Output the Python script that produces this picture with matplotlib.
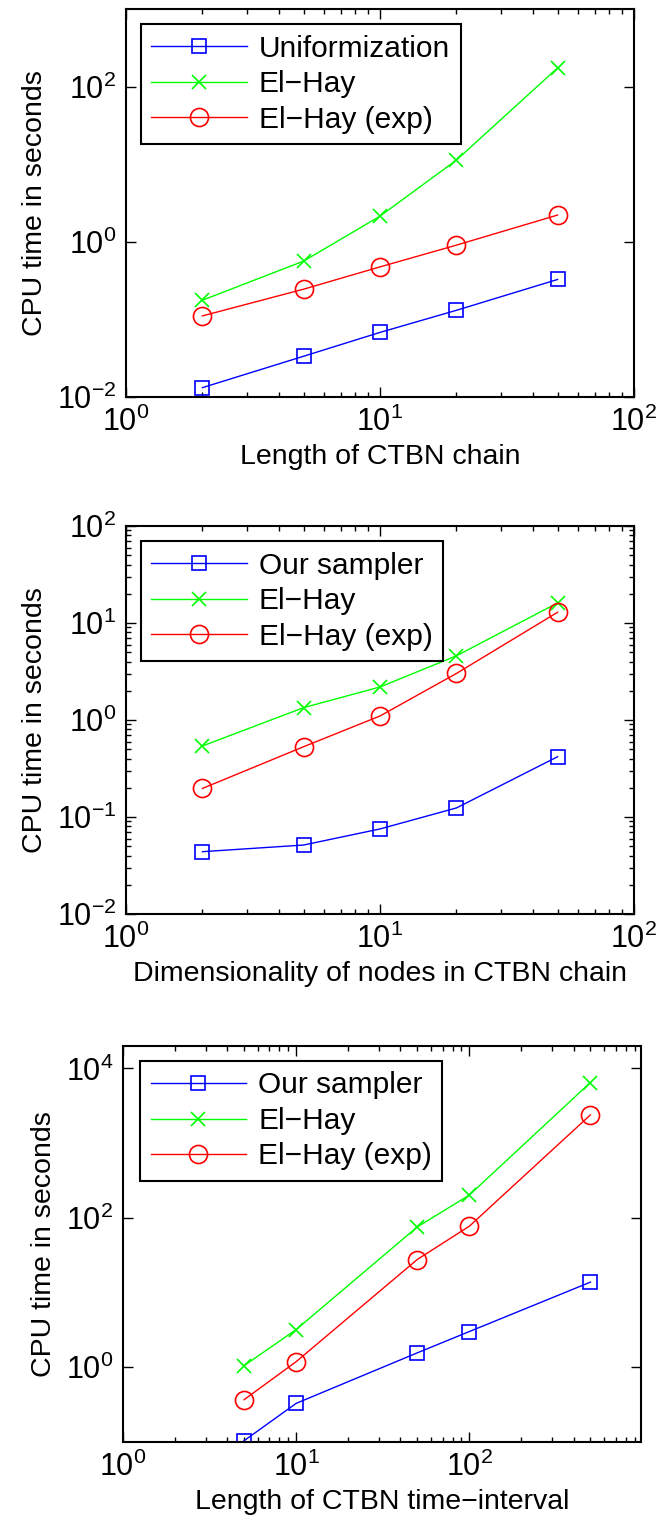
import matplotlib
matplotlib.use('Agg')
import math
import matplotlib.pyplot as plt
from matplotlib.ticker import LogLocator, FuncFormatter, NullFormatter

plt.rcParams['font.family'] = ['Liberation Sans', 'DejaVu Sans']

# --- data ---
chainLen = [2, 5, 10, 20, 50]
chainUnif = [0.0132, 0.0335, 0.068, 0.131, 0.327]
chainElHay = [0.177, 0.563, 2.14, 11.3, 174]
chainElHayExp = [0.111, 0.245, 0.475, 0.906, 2.21]

nodeDim = [2, 5, 10, 20, 50]
dimOurs = [0.0439, 0.0514, 0.0753, 0.124, 0.418]
dimElHay = [0.54, 1.34, 2.19, 4.59, 16.1]
dimElHayExp = [0.197, 0.53, 1.1, 3.02, 12.9]

intervalLen = [5, 10, 50, 100, 500]
intOurs = [0.104, 0.329, 1.56, 3.01, 13.8]
intElHay = [1.05, 3.2, 75.6, 202, 6490]
intElHayExp = [0.368, 1.19, 27.7, 77.4, 2390]

W, H = 662.0, 1536.0
FS_LAB = 20.5
FS_TICK = 22
FS_LEG = 21.5

def pow10(v, pos):
    e = int(round(math.log10(v)))
    if e >= 0:
        return r'$\mathregular{10^{%d}}$' % e
    return r'$\mathregular{10^{' + '\u2212' + str(-e) + '}}$'

def make_axes(l, r, t, b):
    return fig.add_axes([l / W, 1 - b / H, (r - l) / W, (b - t) / H])

def style(ax, xlim, ylim, yticks, xticks, yminor, xlabel, legpos):
    ax.set_xscale('log')
    ax.set_yscale('log')
    ax.set_xlim(*xlim)
    ax.set_ylim(*ylim)
    ax.set_xticks(xticks)
    ax.set_yticks(yticks)
    ax.xaxis.set_minor_locator(LogLocator(base=10, subs=range(2, 10), numticks=20))
    if yminor:
        ax.yaxis.set_minor_locator(LogLocator(base=10, subs=range(2, 10), numticks=20))
    else:
        ax.yaxis.set_minor_locator(plt.NullLocator())
    ax.xaxis.set_minor_formatter(NullFormatter())
    ax.yaxis.set_minor_formatter(NullFormatter())
    ax.xaxis.set_major_formatter(FuncFormatter(pow10))
    ax.yaxis.set_major_formatter(FuncFormatter(pow10))
    ax.tick_params(which='both', direction='in', top=True, right=True, labelsize=FS_TICK, width=1.0)
    ax.tick_params(which='major', length=7, pad=7)
    ax.tick_params(which='minor', length=3.5)
    for s in ax.spines.values():
        s.set_linewidth(1.5)
    ax.set_xlabel(xlabel, fontsize=FS_LAB, labelpad=4)
    ax.set_ylabel('CPU time in seconds', fontsize=FS_LAB, labelpad=6)
    leg = ax.legend(loc='upper left', bbox_to_anchor=legpos, borderaxespad=0,
                    fontsize=FS_LEG, fancybox=False, edgecolor='black', framealpha=1,
                    handlelength=3.2, handletextpad=0.4, labelspacing=0.25,
                    borderpad=0.35)
    leg.get_frame().set_linewidth(1.5)

def plot3(ax, x, a, b, c, la):
    ax.plot(x, a, '-s', color='#0000ff', lw=1.0, ms=10, mfc='none', mew=1.2, label=la)
    ax.plot(x, b, '-x', color='#00ff00', lw=1.0, ms=10, mew=1.2, label='El\u2212Hay')
    ax.plot(x, c, '-o', color='#ff0000', lw=1.0, ms=13, mfc='none', mew=1.2, label='El\u2212Hay (exp)')

fig = plt.figure(figsize=(W / 100, H / 100), dpi=100)

ax1 = make_axes(126, 634, 9, 397)
plot3(ax1, chainLen, chainUnif, chainElHay, chainElHayExp, 'Uniformization')
style(ax1, (1, 100), (1e-2, 1e3), [1e-2, 1, 1e2], [1, 10, 100], False,
      'Length of CTBN chain', (0.0295, 0.961))

ax2 = make_axes(126, 634, 526, 914)
plot3(ax2, nodeDim, dimOurs, dimElHay, dimElHayExp, 'Our sampler')
style(ax2, (1, 100), (1e-2, 1e2), [1e-2, 1e-1, 1, 10, 100], [1, 10, 100], True,
      'Dimensionality of nodes in CTBN chain', (0.0295, 0.961))

ax3 = make_axes(123, 641, 1046, 1442)
plot3(ax3, intervalLen, intOurs, intElHay, intElHayExp, 'Our sampler')
style(ax3, (1, 980), (0.1, 2e4), [1, 1e2, 1e4], [1, 10, 100], False,
      'Length of CTBN time\u2212interval', (0.033, 0.962))

plt.savefig('out.png', dpi=100)
